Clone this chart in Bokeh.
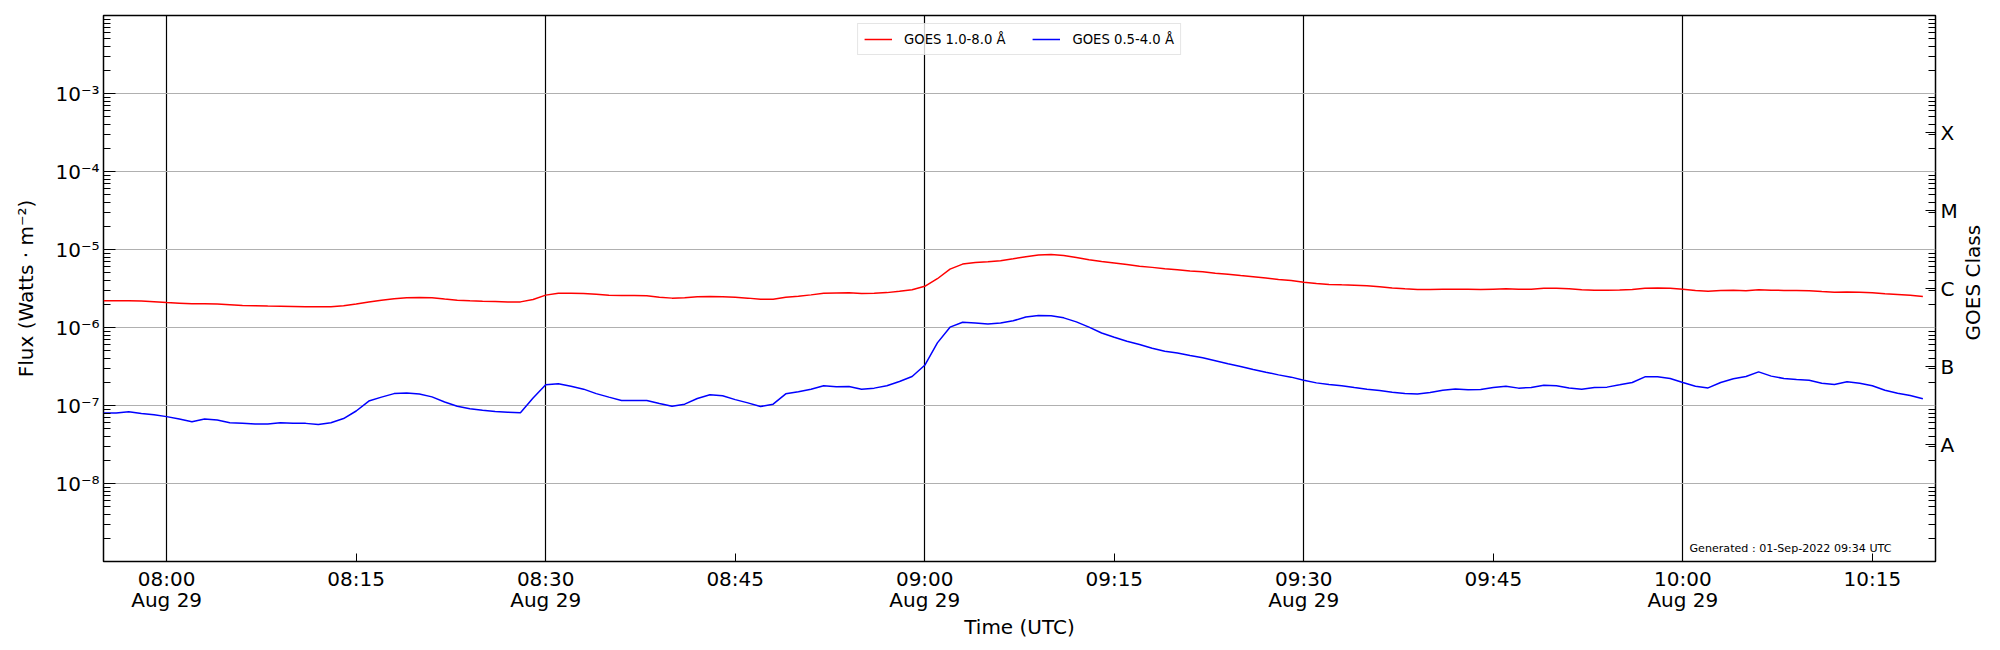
import math
import pandas as pd
from bokeh.plotting import figure
from bokeh.layouts import row
from bokeh.core.properties import value
from bokeh.models import (Range1d, FixedTicker, LogAxis, CustomJSTickFormatter,
                          Legend, LegendItem, Label)
from bokeh.embed import file_html
from bokeh.resources import INLINE

# ---------------- data (1-minute GOES XRS, 2022-08-29) ----------------
start_time = "2022-08-29 07:55"

# 1.0-8.0 Angstrom channel, W/m^2 (one value per minute from 07:55)
xrs_long = [v * 1e-6 for v in [
    2.20, 2.20, 2.20, 2.18, 2.14, 2.09, 2.05, 2.01, 2.01, 2.00,
    1.96, 1.92, 1.90, 1.88, 1.87, 1.86, 1.84, 1.84, 1.85, 1.90,
    2.00, 2.12, 2.24, 2.34, 2.40, 2.42, 2.41, 2.32, 2.24, 2.20,
    2.17, 2.15, 2.13, 2.13, 2.28, 2.60, 2.74, 2.75, 2.72, 2.67,
    2.60, 2.57, 2.57, 2.55, 2.45, 2.38, 2.40, 2.47, 2.50, 2.48,
    2.44, 2.38, 2.31, 2.31, 2.45, 2.52, 2.62, 2.75, 2.77, 2.78,
    2.72, 2.75, 2.80, 2.92, 3.05, 3.37, 4.22, 5.60, 6.50, 6.80,
    6.95, 7.15, 7.60, 8.10, 8.50, 8.60, 8.40, 7.90, 7.40, 7.00,
    6.70, 6.40, 6.10, 5.90, 5.65, 5.50, 5.30, 5.20, 4.97, 4.83,
    4.64, 4.47, 4.30, 4.12, 4.00, 3.80, 3.66, 3.56, 3.52, 3.49,
    3.42, 3.32, 3.22, 3.13, 3.07, 3.07, 3.10, 3.10, 3.10, 3.07,
    3.10, 3.13, 3.10, 3.10, 3.19, 3.19, 3.13, 3.04, 3.01, 3.01,
    3.02, 3.07, 3.19, 3.22, 3.19, 3.10, 2.98, 2.92, 2.98, 3.01,
    2.95, 3.04, 3.01, 2.99, 2.99, 2.96, 2.89, 2.83, 2.86, 2.83,
    2.78, 2.70, 2.65, 2.59, 2.50]]

# 0.5-4.0 Angstrom channel, W/m^2
xrs_short = [v * 1e-7 for v in [
    0.80, 0.80, 0.83, 0.79, 0.76, 0.72, 0.67, 0.62, 0.67, 0.65,
    0.60, 0.59, 0.58, 0.58, 0.60, 0.59, 0.59, 0.57, 0.60, 0.68,
    0.85, 1.14, 1.28, 1.42, 1.45, 1.40, 1.29, 1.11, 0.98, 0.91,
    0.87, 0.84, 0.82, 0.81, 1.25, 1.84, 1.90, 1.77, 1.62, 1.42,
    1.28, 1.16, 1.16, 1.16, 1.06, 0.98, 1.04, 1.23, 1.37, 1.33,
    1.19, 1.08, 0.97, 1.04, 1.41, 1.50, 1.62, 1.79, 1.74, 1.75,
    1.62, 1.67, 1.79, 2.03, 2.35, 3.28, 6.35, 10.1, 11.7, 11.4,
    11.1, 11.4, 12.2, 13.6, 14.3, 14.1, 13.3, 11.8, 10.1, 8.5,
    7.5, 6.68, 6.05, 5.43, 4.97, 4.70, 4.38, 4.09, 3.74, 3.42,
    3.16, 2.89, 2.67, 2.47, 2.31, 2.11, 1.95, 1.86, 1.79, 1.70,
    1.62, 1.56, 1.48, 1.43, 1.40, 1.47, 1.57, 1.63, 1.59, 1.60,
    1.70, 1.77, 1.67, 1.70, 1.82, 1.79, 1.68, 1.62, 1.70, 1.72,
    1.84, 1.97, 2.33, 2.33, 2.22, 1.97, 1.77, 1.68, 1.97, 2.20,
    2.35, 2.70, 2.38, 2.22, 2.15, 2.11, 1.93, 1.86, 2.01, 1.93,
    1.79, 1.57, 1.44, 1.34, 1.22]]

series_labels = ["GOES 1.0-8.0 Å", "GOES 0.5-4.0 Å"]

x_start, x_end = "2022-08-29 07:55", "2022-08-29 10:20"
x_tick_times = ["2022-08-29 08:00", "2022-08-29 08:15", "2022-08-29 08:30",
                "2022-08-29 08:45", "2022-08-29 09:00", "2022-08-29 09:15",
                "2022-08-29 09:30", "2022-08-29 09:45", "2022-08-29 10:00",
                "2022-08-29 10:15"]
x_tick_labels = ["08:00\nAug 29", "08:15", "08:30\nAug 29", "08:45",
                 "09:00\nAug 29", "09:15", "09:30\nAug 29", "09:45",
                 "10:00\nAug 29", "10:15"]
x_grid_times = ["2022-08-29 08:00", "2022-08-29 08:30", "2022-08-29 09:00",
                "2022-08-29 09:30", "2022-08-29 10:00"]

y_major = [1e-9, 1e-8, 1e-7, 1e-6, 1e-5, 1e-4, 1e-3, 1e-2]
y_major_labels = ["", "10⁻⁸", "10⁻⁷", "10⁻⁶", "10⁻⁵", "10⁻⁴", "10⁻³", ""]
y_minor = [m * 10.0 ** e for e in range(-9, -2) for m in range(2, 10)]

goes_centers = [10 ** -7.5, 10 ** -6.5, 10 ** -5.5, 10 ** -4.5, 10 ** -3.5]
goes_labels = ["A", "B", "C", "M", "X"]
goes_axis_title = "GOES Class"

generated_text = "Generated : 01-Sep-2022 09:34 UTC"

# ---------------- plot ----------------
def ms(t):
    return int(pd.Timestamp(t).value // 10 ** 6)

times = pd.date_range(start_time, periods=len(xrs_long), freq="1min")

FONT = "DejaVu Sans"
TOTAL_H = 650
TITLE_W = 40

p = figure(width=1960, height=TOTAL_H, x_axis_type="datetime", y_axis_type="log",
           x_range=Range1d(ms(x_start), ms(x_end)),
           y_range=Range1d(1e-9, 1e-2),
           output_backend="svg", toolbar_location=None,
           min_border_left=103, min_border_right=23,
           min_border_top=15, min_border_bottom=89)

p.background_fill_color = "white"
p.border_fill_color = "white"
p.outline_line_color = "black"
p.outline_line_width = 1.5

r1 = p.line(times, xrs_long, line_color="#ff0000", line_width=1.5)
r2 = p.line(times, xrs_short, line_color="#0000ff", line_width=1.5)

time_fmt = CustomJSTickFormatter(
    args=dict(vals=[ms(t) for t in x_tick_times], labs=x_tick_labels),
    code="""
    for (let i = 0; i < vals.length; i++) {
        if (Math.abs(vals[i] - tick) < 1000) { return labs[i]; }
    }
    return "";
""")

log_code = """
    for (let i = 0; i < vals.length; i++) {
        if (Math.abs(vals[i] - tick) <= 1e-6 * Math.abs(vals[i])) { return labs[i]; }
    }
    return "";
"""

# x axis
xa = p.xaxis[0]
xa.ticker = FixedTicker(ticks=[ms(t) for t in x_tick_times], minor_ticks=[])
xa.formatter = time_fmt
xa.axis_label = "Time (UTC)"
xa.major_tick_in = 8
xa.major_tick_out = 0
xa.minor_tick_line_color = None
xa.major_label_standoff = 5
xa.axis_label_standoff = 0
xa.major_label_text_line_height = 0.9

# left y axis
ya = p.yaxis[0]
ya.ticker = FixedTicker(ticks=y_major, minor_ticks=y_minor)
ya.formatter = CustomJSTickFormatter(args=dict(vals=y_major, labs=y_major_labels), code=log_code)
ya.axis_label = "Flux (Watts · m⁻²)"
ya.major_tick_in = 12
ya.major_tick_out = 0
ya.minor_tick_in = 7
ya.minor_tick_out = 0
ya.major_label_standoff = 4
ya.axis_label_standoff = 14

# right y axis (GOES class letters)
ra = LogAxis(ticker=FixedTicker(ticks=goes_centers, minor_ticks=y_minor),
             formatter=CustomJSTickFormatter(args=dict(vals=goes_centers, labs=goes_labels), code=log_code))
ra.major_tick_in = 10
ra.major_tick_out = 0
ra.minor_tick_in = 7
ra.minor_tick_out = 0
ra.major_label_standoff = 5
p.add_layout(ra, "right")

for ax in [xa, ya, ra]:
    ax.axis_line_color = None
    ax.major_tick_line_color = "black"
    ax.major_tick_line_width = 1
    ax.minor_tick_line_width = 1
    ax.major_label_text_font = FONT
    ax.major_label_text_font_size = "20px"
    ax.major_label_text_color = "black"
    ax.axis_label_text_font = FONT
    ax.axis_label_text_font_size = "20px"
    ax.axis_label_text_font_style = "normal"
    ax.axis_label_text_color = "black"
ya.minor_tick_line_color = "black"
ra.minor_tick_line_color = "black"

# grids
p.xgrid.ticker = FixedTicker(ticks=[ms(t) for t in x_grid_times])
p.xgrid.grid_line_color = "black"
p.xgrid.grid_line_width = 1.2
p.ygrid.ticker = FixedTicker(ticks=y_major)
p.ygrid.grid_line_color = "#b0b0b0"
p.ygrid.grid_line_width = 1

# legend
legend = Legend(items=[LegendItem(label=series_labels[0], renderers=[r1]),
                       LegendItem(label=series_labels[1], renderers=[r2])],
                location="top_center", orientation="horizontal",
                margin=8, padding=6, spacing=27,
                glyph_width=28, glyph_height=18, label_height=18,
                label_standoff=12,
                label_text_font=FONT, label_text_font_size="13.2px",
                label_text_color="black",
                border_line_color="#cccccc", border_line_width=1,
                background_fill_color="white", background_fill_alpha=0.8)
p.add_layout(legend)

p.add_layout(Label(x=1586, y=13, x_units="screen", y_units="screen",
                   text=generated_text, text_font=FONT, text_font_size="11.1px",
                   text_align="left", text_baseline="alphabetic", text_color="black"))

# narrow strip on the right holding the right-axis title (reads bottom-to-top)
p2 = figure(width=TITLE_W, height=TOTAL_H, x_range=Range1d(0, TITLE_W),
            y_range=Range1d(0, TOTAL_H), x_axis_location=None, y_axis_location=None,
            output_backend="svg", toolbar_location=None, min_border=0)
p2.outline_line_color = None
p2.grid.visible = False
p2.background_fill_color = "white"
p2.border_fill_color = "white"
p2.text(x=[12], y=[TOTAL_H - 318], text=[goes_axis_title], angle=math.pi / 2,
        text_align="center", text_baseline="middle",
        text_font=value(FONT), text_font_size="20px", text_color="black")

layout = row(p, p2, spacing=0)
open("out.html", "w").write(file_html(layout, INLINE))
